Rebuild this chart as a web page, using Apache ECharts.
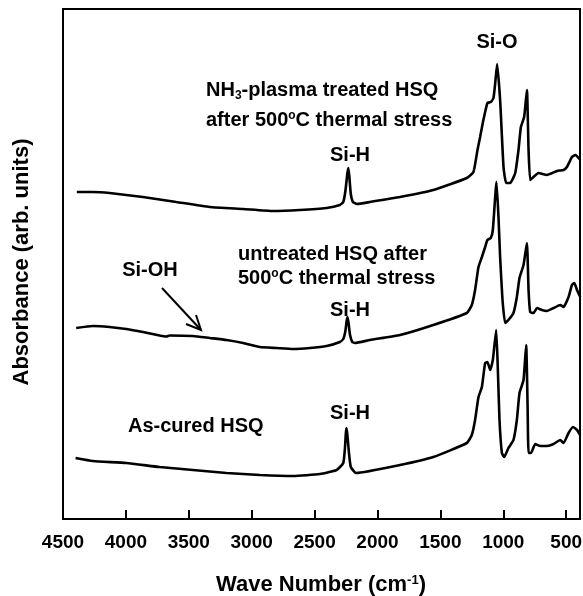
<!DOCTYPE html>
<html>
<head>
<meta charset="utf-8">
<script src="https://cdn.jsdelivr.net/npm/echarts@6/dist/echarts.min.js"></script>
<style>
html,body{margin:0;padding:0;background:#fff;}
#c{width:583px;height:596px;}
</style>
</head>
<body>
<div id="c"></div>
<script>
// Wave numbers (cm-1) and absorbance (arb. units, curves offset as in the figure)
var nh3Wave = [4390,4263,4130,3865,3599,3334,3068,2830,2617,2405,2299,2272,2255,2240,2232,2224,2212,2195,2163,2060,1821,1556,1290,1237,1205,1184,1158,1126,1099,1078,1064,1049,1025,998,977,945,905,879,860,834,812,799,786,760,720,653,573,521,494,454,427,388];
var nh3Abs  = [3.27,3.27,3.26,3.22,3.17,3.12,3.10,3.08,3.09,3.11,3.14,3.17,3.28,3.45,3.51,3.43,3.25,3.17,3.15,3.17,3.22,3.29,3.41,3.47,3.69,3.82,3.99,4.16,4.17,4.21,4.36,4.55,4.19,3.52,3.36,3.36,3.46,3.69,3.92,4.02,4.29,3.69,3.39,3.42,3.46,3.44,3.48,3.49,3.52,3.62,3.64,3.59];

var untrWave = [4395,4263,4130,3997,3865,3732,3678,3652,3467,3334,3201,3068,2935,2803,2670,2537,2405,2299,2272,2255,2245,2238,2230,2218,2200,2179,2060,1821,1556,1290,1250,1224,1197,1170,1144,1126,1099,1083,1054,1038,1025,1006,985,959,919,892,871,839,812,799,786,760,732,693,653,600,547,521,481,454,435,414,388];
var untrAbs  = [1.91,1.93,1.92,1.90,1.87,1.835,1.825,1.835,1.83,1.81,1.79,1.76,1.72,1.71,1.70,1.71,1.73,1.77,1.80,1.88,1.98,2.02,1.96,1.84,1.77,1.76,1.79,1.84,1.94,2.06,2.14,2.29,2.52,2.62,2.72,2.79,2.81,2.89,3.37,3.02,2.62,2.19,1.96,1.99,2.06,2.22,2.41,2.54,2.76,2.29,2.07,2.06,2.11,2.09,2.08,2.11,2.14,2.12,2.22,2.34,2.36,2.29,2.22];

var curedWave = [4400,4263,3997,3732,3467,3201,2935,2670,2458,2325,2272,2258,2252,2247,2240,2228,2212,2171,1821,1556,1290,1250,1224,1197,1170,1144,1126,1104,1083,1056,1043,1030,1011,993,959,919,892,871,839,818,807,799,780,746,706,653,600,547,521,481,446,414,388];
var curedAbs  = [0.61,0.58,0.56,0.52,0.49,0.46,0.44,0.43,0.45,0.49,0.56,0.72,0.85,0.91,0.85,0.68,0.52,0.46,0.54,0.62,0.76,0.84,0.99,1.22,1.32,1.56,1.57,1.49,1.59,1.89,1.49,0.99,0.66,0.62,0.71,0.79,0.99,1.26,1.39,1.74,1.16,0.66,0.66,0.75,0.73,0.73,0.75,0.79,0.76,0.86,0.92,0.89,0.84];

var xTickValues = [500,1000,1500,2000,2500,3000,3500,4000,4500];

function pairs(xs, ys){ return xs.map(function(x,i){ return [x, ys[i]]; }); }

var FONT = '"Liberation Sans", Arial, Helvetica, sans-serif';
var chart = echarts.init(document.getElementById('c'), null, {renderer:'canvas'});

function lineSeries(name, data){
  return {
    name: name, type: 'line', data: data, showSymbol: false, smooth: 0.15,
    lineStyle: {color: '#000', width: 2.6}, silent: true, animation: false
  };
}

function txt(x, y, text, align){
  return {
    type: 'text', x: x, y: y, silent: true,
    style: {
      text: text, fill: '#000', font: 'bold 20px ' + FONT,
      align: align || 'left', verticalAlign: 'middle'
    }
  };
}
var supRich = {
  n: {fontSize: 20, fontWeight: 'bold', fontFamily: FONT, fill: '#000'},
  sup: {fontSize: 12, fontWeight: 'bold', fontFamily: FONT, padding: [0,0,9,0], fill: '#000'},
  sub: {fontSize: 12, fontWeight: 'bold', fontFamily: FONT, padding: [12,0,0,0], fill: '#000'}
};

chart.setOption({
  animation: false,
  backgroundColor: '#fff',
  grid: {left: 63, right: 3, top: 9, bottom: 77, show: true, borderColor: '#000', borderWidth: 2,
         containLabel: false, outerBoundsMode: 'none'},
  xAxis: {
    type: 'value', inverse: true, min: 390, max: 4500,
    axisLine: {show: true, lineStyle: {color: '#000', width: 2}},
    axisTick: {show: true, inside: true, length: 9, lineStyle: {color: '#000', width: 2}, customValues: xTickValues},
    axisLabel: {show: true, color: '#000', fontSize: 19, fontWeight: 'bold', fontFamily: FONT, margin: 14,
                customValues: xTickValues, formatter: function(v){ return String(v); }},
    splitLine: {show: false}
  },
  yAxis: {
    type: 'value', min: 0, max: 5.1,
    axisLine: {show: false}, axisTick: {show: false}, axisLabel: {show: false}, splitLine: {show: false}
  },
  series: [
    lineSeries('NH3-plasma treated HSQ', pairs(nh3Wave, nh3Abs)),
    lineSeries('untreated HSQ', pairs(untrWave, untrAbs)),
    lineSeries('As-cured HSQ', pairs(curedWave, curedAbs))
  ],
  graphic: [
    txt(497, 42, 'Si-O', 'center'),
    {type:'text', x:206, y:90, silent:true, style:{text:'{n|NH}{sub|3}{n|-plasma treated HSQ}', rich:supRich, verticalAlign:'middle', fill:'#000'}},
    {type:'text', x:206, y:120, silent:true, style:{text:'{n|after 500}{sup|o}{n|C thermal stress}', rich:supRich, verticalAlign:'middle', fill:'#000'}},
    txt(350, 155, 'Si-H', 'center'),
    txt(238, 254, 'untreated HSQ after'),
    {type:'text', x:238, y:278, silent:true, style:{text:'{n|500}{sup|o}{n|C thermal stress}', rich:supRich, verticalAlign:'middle', fill:'#000'}},
    txt(150, 270, 'Si-OH', 'center'),
    txt(350, 310, 'Si-H', 'center'),
    txt(350, 413, 'Si-H', 'center'),
    txt(128, 426, 'As-cured HSQ'),
    {type:'polyline', silent:true, shape:{points:[[162,288],[201,330]]}, style:{stroke:'#000', lineWidth:2}},
    {type:'polyline', silent:true, shape:{points:[[186,324],[201,330],[196,315]]}, style:{stroke:'#000', lineWidth:2, fill:null}},
    {type:'text', x:321, y:585, silent:true, style:{text:'{t|Wave Number (cm}{s|-1}{t|)}', align:'center', verticalAlign:'middle',
      rich:{t:{fontSize:22, fontWeight:'bold', fontFamily:FONT, fill:'#000'}, s:{fontSize:13, fontWeight:'bold', fontFamily:FONT, padding:[0,0,10,0], fill:'#000'}}}},
    {type:'text', x:22, y:262, rotation: Math.PI/2, silent:true, style:{text:'Absorbance (arb. units)', align:'center', verticalAlign:'middle', font:'bold 22px ' + FONT, fill:'#000'}}
  ]
});
</script>
</body>
</html>
